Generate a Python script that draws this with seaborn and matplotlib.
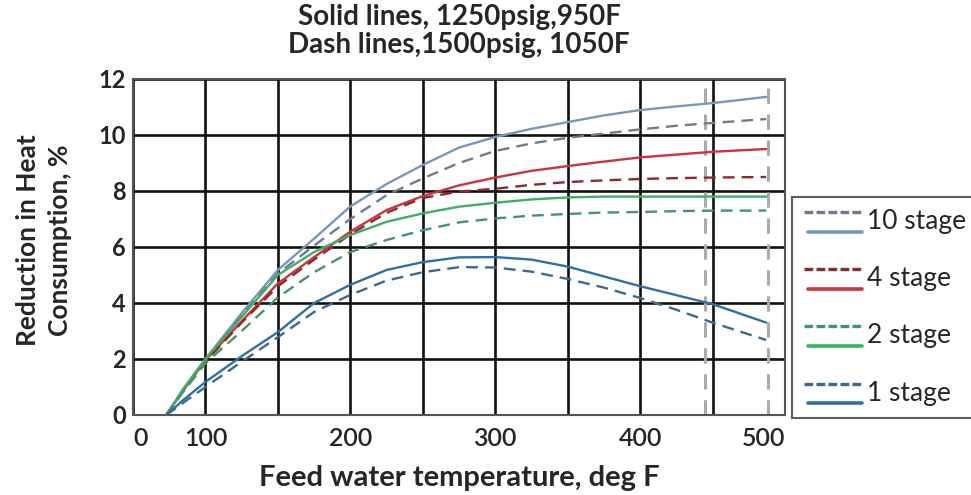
import matplotlib
matplotlib.use("Agg")
import matplotlib.pyplot as plt
import seaborn as sns
import numpy as np
import pandas as pd
from matplotlib.lines import Line2D
from matplotlib.legend_handler import HandlerBase

# ---- data ----
temp = [73, 85, 100, 125, 150, 175, 200, 225, 250, 275, 300, 325, 350, 375, 400, 425, 450, 487]

stage10_solid = [0, 0.95, 2.0, 3.64, 5.18, 6.3, 7.45, 8.25, 8.93, 9.55, 9.93, 10.22, 10.46, 10.7, 10.89, 11.02, 11.14, 11.36]
stage10_dash = [0, 0.9, 1.95, 3.55, 5.05, 6.05, 7.0, 7.85, 8.45, 9.0, 9.43, 9.7, 9.9, 10.05, 10.2, 10.33, 10.43, 10.57]
stage4_solid = [0, 0.9, 1.95, 3.35, 4.7, 5.64, 6.55, 7.32, 7.82, 8.2, 8.48, 8.72, 8.89, 9.05, 9.2, 9.3, 9.4, 9.5]
stage4_dash = [0, 0.9, 1.9, 3.3, 4.6, 5.55, 6.45, 7.22, 7.75, 7.98, 8.08, 8.22, 8.32, 8.38, 8.43, 8.46, 8.48, 8.5]
stage2_solid = [0, 0.95, 2.0, 3.5, 5.0, 5.82, 6.43, 6.9, 7.2, 7.44, 7.58, 7.7, 7.77, 7.8, 7.8, 7.8, 7.8, 7.8]
stage2_dash = [0, 0.85, 1.85, 3.0, 4.2, 5.1, 5.82, 6.25, 6.6, 6.88, 7.02, 7.12, 7.18, 7.23, 7.25, 7.28, 7.3, 7.3]
stage1_solid = [0, 0.55, 1.18, 2.1, 2.96, 4.0, 4.65, 5.18, 5.46, 5.63, 5.64, 5.55, 5.3, 4.95, 4.6, 4.28, 3.96, 3.3]
stage1_dash = [0, 0.45, 1.0, 1.9, 2.78, 3.68, 4.29, 4.8, 5.1, 5.28, 5.27, 5.12, 4.86, 4.55, 4.18, 3.76, 3.3, 2.68]

stage_labels = ["10 stage", "4 stage", "2 stage", "1 stage"]
solid_series = [stage10_solid, stage4_solid, stage2_solid, stage1_solid]
dash_series = [stage10_dash, stage4_dash, stage2_dash, stage1_dash]

x_ticks = [50, 100, 200, 300, 400, 500]
x_ticklabels = ["0", "100", "200", "300", "400", "500"]
y_ticks = [0, 2, 4, 6, 8, 10, 12]
ref_lines_x = [445, 488]

title_lines = ["Solid lines, 1250psig,950F", "Dash lines,1500psig, 1050F"]
xlabel_text = "Feed water temperature, deg F"
ylabel_text = "Reduction in Heat\nConsumption, %"

# ---- styles ----
solid_colors = ["#7797bd", "#c8353d", "#3fae66", "#2f6fa6"]
dash_colors = ["#6e7c8c", "#8c2a2e", "#45956b", "#3b6a8e"]

sns.set_style("white")
plt.rcParams["font.family"] = ["Lato", "DejaVu Sans"]

W, H = 971, 495
fig = plt.figure(figsize=(W / 100, H / 100), dpi=100)
L, R, T, B = 133, 785, 79, 415
ax = fig.add_axes([L / W, 1 - B / H, (R - L) / W, (B - T) / H])

# grid
for gx in np.arange(50, 501, 50):
    ax.axvline(gx, color="#111111", lw=1.9, zorder=1)
for gy in y_ticks:
    ax.axhline(gy, color="#111111", lw=1.9, zorder=1)

# reference dashed verticals
for rx in ref_lines_x:
    ax.axvline(rx, color="#ababab", lw=2.2, ls=(0, (5, 3.5)), zorder=2)

handles = []
for lab, ys, yd, cs, cd in zip(stage_labels, solid_series, dash_series, solid_colors, dash_colors):
    df_s = pd.DataFrame({"temp": temp, "val": ys})
    df_d = pd.DataFrame({"temp": temp, "val": yd})
    sns.lineplot(data=df_s, x="temp", y="val", ax=ax, color=cs, lw=1.7, zorder=3)
    sns.lineplot(data=df_d, x="temp", y="val", ax=ax, color=cd, lw=1.7, ls=(0, (5, 3)), zorder=3)
    handles.append((Line2D([], [], color=cd), Line2D([], [], color=cs)))

ax.set_xlim(50, 500)
ax.set_ylim(0, 12)
ax.set_xticks(x_ticks)
ax.set_xticklabels(x_ticklabels, fontsize=18, fontweight="semibold")
ax.set_yticks(y_ticks)
ax.set_yticklabels([str(v) for v in y_ticks], fontsize=17, fontweight="bold")
ax.tick_params(axis="x", length=0, pad=9)
ax.tick_params(axis="y", length=0, pad=5)
xt = ax.get_xticklabels()
xt[0].set_ha("left")
xt[-1].set_ha("right")
for s in ax.spines.values():
    s.set_color("#555555")
    s.set_linewidth(1.5)

ax.set_xlabel(xlabel_text, fontsize=21, fontweight="bold")
ax.xaxis.set_label_coords(0.5, (B - 478) / (B - T))
ax.xaxis.label.set_va("center")
ax.set_ylabel(ylabel_text, fontsize=19, fontweight="bold", linespacing=1.4)
ax.yaxis.set_label_coords((44 - L) / (R - L), (B - 240) / (B - T))
ax.yaxis.label.set_va("center")

fig.text(459 / W, 1 - 17 / H, title_lines[0], fontsize=20, fontweight="bold", ha="center", va="center")
fig.text(459 / W, 1 - 45 / H, title_lines[1], fontsize=20, fontweight="bold", ha="center", va="center")


class PairHandler(HandlerBase):
    def create_artists(self, legend, orig_handle, xdescent, ydescent, width, height, fontsize, trans):
        dash, solid = orig_handle
        x0 = -xdescent
        yc = -ydescent + height / 2
        l1 = Line2D([x0, x0 + width], [yc + 0.30 * fontsize] * 2, color=dash.get_color(),
                    lw=2.4, ls=(0, (2.6, 1.0)))
        l2 = Line2D([x0 + 3, x0 + width], [yc - 0.45 * fontsize] * 2, color=solid.get_color(), lw=2.6)
        for l in (l1, l2):
            l.set_transform(trans)
        return [l1, l2]


leg = fig.legend(handles, stage_labels, handler_map={tuple: PairHandler()},
                 loc="upper left", bbox_to_anchor=(792 / W, 1 - 197 / H),
                 borderaxespad=0, fontsize=19, handlelength=2.2, handleheight=0.9,
                 labelspacing=1.22, handletextpad=0.2, borderpad=0.45,
                 frameon=True, fancybox=False)
leg.get_frame().set_edgecolor("#333333")
leg.get_frame().set_linewidth(1.5)

fig.savefig("out.png", dpi=100)
